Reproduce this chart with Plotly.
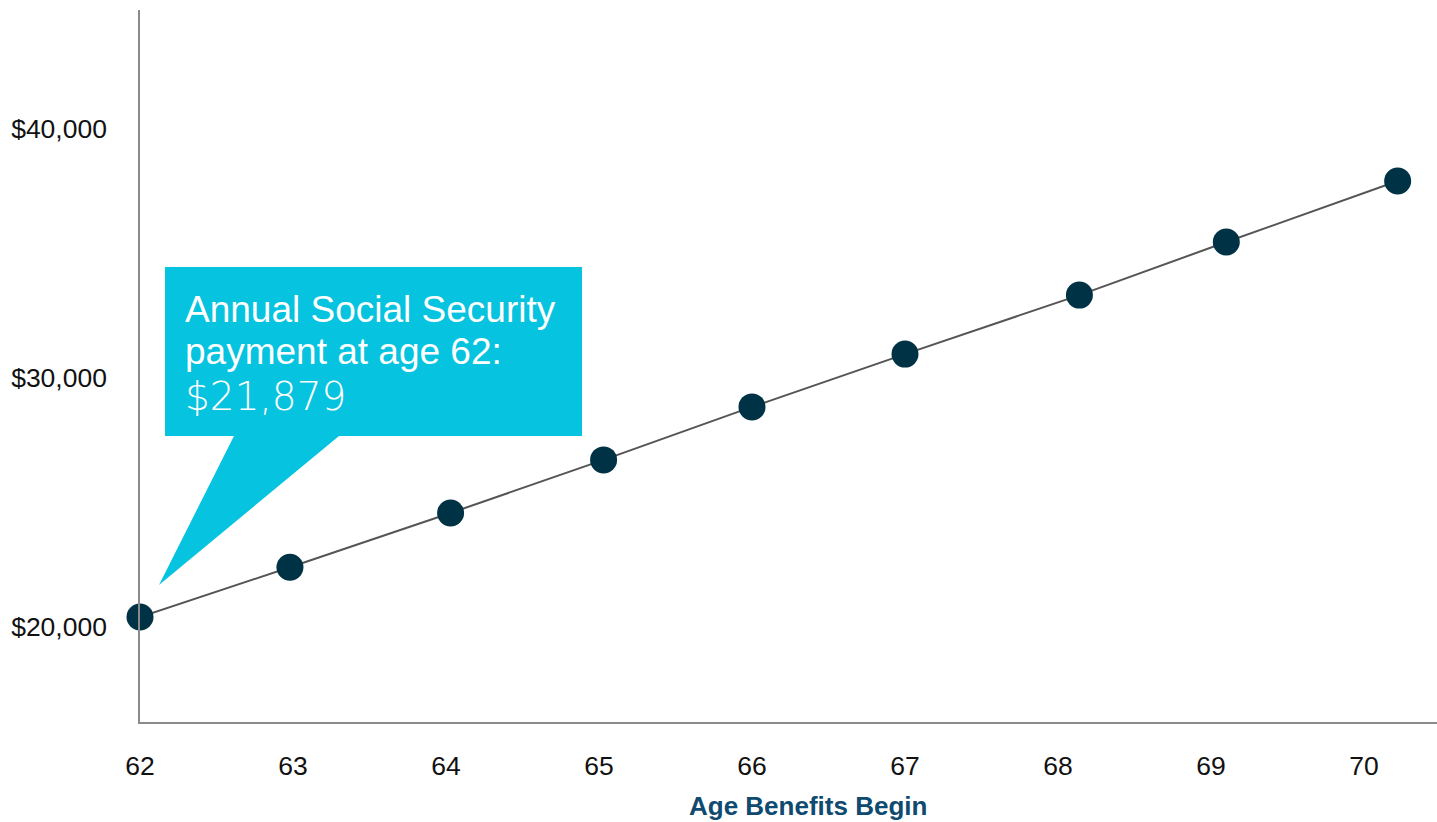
import plotly.graph_objects as go

# Data
ages = [62, 63, 64, 65, 66, 67, 68, 69, 70]
x_positions = [62.0, 62.98, 64.03, 65.03, 66.0, 67.0, 68.14, 69.10, 70.22]
benefits = [20400, 22400, 24580, 26710, 28840, 30960, 33330, 35460, 37910]
y_tick_vals = [20000, 30000, 40000]
y_tick_text = ["$20,000", "$30,000", "$40,000"]
callout_lines = ["Annual Social Security", "payment at age 62:"]
callout_value = "$21,879"
x_title = "Age Benefits Begin"

W, H = 1437, 822
L, R, T, B = 140, 0, 10, 100
PW, PH = W - L - R, H - T - B

def px(x):
    return (x - L) / PW

def py(y):
    return (H - B - y) / PH

fig = go.Figure()
fig.add_trace(go.Scatter(
    x=x_positions, y=benefits, mode="lines+markers",
    line=dict(color="#555555", width=2),
    marker=dict(color="#003246", size=27),
    cliponaxis=False, showlegend=False, hoverinfo="skip",
))

cyan = "#06C3DF"
box = f"M {px(165)},{py(267)} L {px(582)},{py(267)} L {px(582)},{py(436)} L {px(339)},{py(436)} L {px(159)},{py(585)} L {px(234)},{py(436)} L {px(165)},{py(436)} Z"
fig.add_shape(type="path", path=box, xref="paper", yref="paper",
              fillcolor=cyan, line=dict(width=0), layer="above")

fig.add_annotation(text=callout_lines[0], xref="paper", yref="paper",
                   x=px(183), y=py(309), xanchor="left", yanchor="middle",
                   showarrow=False, font=dict(family="Liberation Sans, Arial", size=37, color="white"))
fig.add_annotation(text=callout_lines[1], xref="paper", yref="paper",
                   x=px(183), y=py(351), xanchor="left", yanchor="middle",
                   showarrow=False, font=dict(family="Liberation Sans, Arial", size=37, color="white"))
fig.add_annotation(text=callout_value, xref="paper", yref="paper",
                   x=px(183), y=py(396), xanchor="left", yanchor="middle",
                   showarrow=False, font=dict(family="DejaVu Sans ExtraLight, DejaVu Sans", size=39, color="white", weight=200))

fig.add_annotation(text=f"<b>{x_title}</b>", xref="paper", yref="paper",
                   x=px(808), y=py(806), xanchor="center", yanchor="middle",
                   showarrow=False, font=dict(family="Liberation Sans, Arial", size=26, color="#0F4A70"))

fig.update_layout(
    width=W, height=H,
    margin=dict(l=L, r=R, t=T, b=B),
    paper_bgcolor="white", plot_bgcolor="white",
    font=dict(family="Liberation Sans, Arial", size=26.5, color="#111111"),
    xaxis=dict(
        range=[62, 62 + PW / 153.0],
        tickvals=ages, ticktext=[str(a) for a in ages],
        showgrid=False, zeroline=False,
        showline=True, linecolor="#8a8a8a", linewidth=1.5,
        ticks="", ticklabelstandoff=19,
    ),
    yaxis=dict(
        range=[16185, 44779],
        tickvals=y_tick_vals, ticktext=y_tick_text,
        showgrid=False, zeroline=False,
        showline=True, linecolor="#8a8a8a", linewidth=1.5,
        ticks="", ticklabelstandoff=26,
    ),
)

fig.write_html("out.html")
